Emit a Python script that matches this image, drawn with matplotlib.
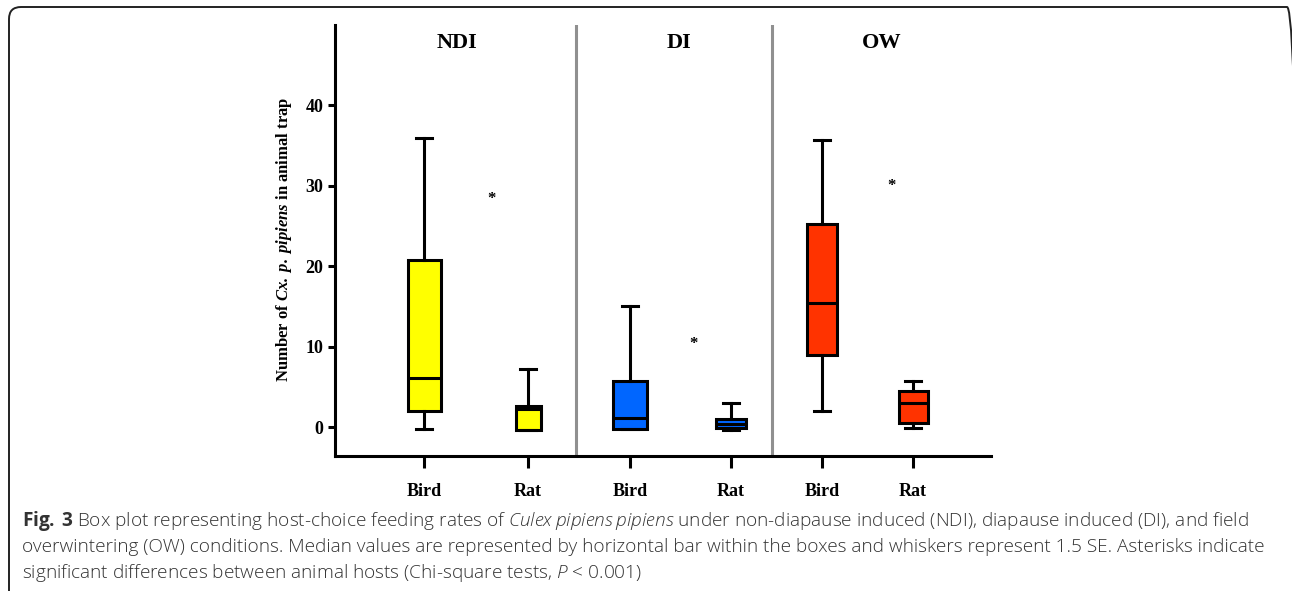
import matplotlib
matplotlib.use("Agg")
import matplotlib.pyplot as plt
from matplotlib.patches import FancyBboxPatch

# data
groups = ["NDI", "DI", "OW"]
hosts = ["Bird", "Rat", "Bird", "Rat", "Bird", "Rat"]
whis_lo = [-0.3, -0.4, -0.3, -0.4, 2.0, -0.1]
q1 = [2.0, -0.4, -0.3, -0.1, 8.9, 0.5]
med = [6.1, 2.2, 1.1, 0.4, 15.4, 3.0]
q3 = [20.8, 2.6, 5.7, 1.0, 25.2, 4.5]
whis_hi = [35.9, 7.2, 15.0, 3.0, 35.7, 5.7]
star_y = [28.4, 10.3, 30.0]

colors = ["#FFFF00", "#FFFF00", "#0066FF", "#0066FF", "#FF3300", "#FF3300"]

# layout (x in pixel-like units along the axis)
box_x = [89, 193, 295, 396, 487, 578]
box_w = [33, 25, 34, 30, 30, 29]
group_x = [122, 344, 547]
star_x = [157, 358, 557]
divider_x = [241, 437]

plt.rcParams['mathtext.fontset'] = 'custom'
plt.rcParams['mathtext.rm'] = 'Open Sans:light'
plt.rcParams['mathtext.it'] = 'Open Sans:italic:light'
plt.rcParams['mathtext.bf'] = 'Open Sans:bold'
plt.rcParams['mathtext.bfit'] = 'Liberation Serif:italic:bold'

fig = plt.figure(figsize=(12.92, 5.91), dpi=100)
ax = fig.add_axes([335/1292, 1-456/591, 656/1292, 431/591])

stats = []
for i in range(len(hosts)):
    stats.append(dict(med=med[i], q1=q1[i], q3=q3[i], whislo=whis_lo[i],
                      whishi=whis_hi[i], fliers=[], label=hosts[i]))

lw = 2.2
bp = ax.bxp(stats, positions=box_x, widths=box_w, capwidths=16,
            patch_artist=True, showfliers=False,
            boxprops=dict(linewidth=lw, edgecolor='black'),
            whiskerprops=dict(linewidth=lw, color='black'),
            capprops=dict(linewidth=lw, color='black'),
            medianprops=dict(linewidth=lw, color='black'))
for patch, c in zip(bp['boxes'], colors):
    patch.set_facecolor(c)

for d in divider_x:
    ax.axvline(d, color='#909090', linewidth=2.2, zorder=0)

for gx, g in zip(group_x, groups):
    ax.text(gx, 47.8, g, ha='center', va='center', fontsize=16,
            fontweight='bold', family='Liberation Serif')

for sx, sy in zip(star_x, star_y):
    ax.text(sx, sy, '*', ha='center', va='center', fontsize=12,
            fontweight='bold', family='Liberation Serif')

ax.set_xlim(0, 656)
ax.set_ylim(-3.6, 50)
ax.set_yticks([0, 10, 20, 30, 40])
ax.set_xticks(box_x)
ax.set_xticklabels(hosts)

for s in ['top', 'right']:
    ax.spines[s].set_visible(False)
for s in ['left', 'bottom']:
    ax.spines[s].set_linewidth(lw)

ax.tick_params(axis='y', length=5, width=lw, pad=3.5)
ax.tick_params(axis='x', length=8.5, width=lw, pad=11)
for lab in ax.get_xticklabels() + ax.get_yticklabels():
    lab.set_family('Liberation Serif')
    lab.set_fontweight('bold')
    lab.set_fontsize(13)

ax.set_ylabel(r"Number of $\mathbfit{Cx.\:p.\:pipiens}$ in animal trap",
              family='Liberation Serif', fontweight='bold', fontsize=12)
ax.yaxis.set_label_coords(-41/656, (23.3 + 3.6)/53.6)

# caption
cap = [
    r"$\mathbf{Fig.\:3}$ Box plot representing host-choice feeding rates of "
    r"$\mathit{Culex\:pipiens\:pipiens}$ under non-diapause induced (NDI), diapause induced (DI), and field",
    "overwintering (OW) conditions. Median values are represented by horizontal bar within the boxes "
    "and whiskers represent 1.5 SE. Asterisks indicate",
    r"significant differences between animal hosts (Chi-square tests, $\mathit{P}$ < 0.001)",
]
cap_y = [521, 547, 573]
for t, y in zip(cap, cap_y):
    fig.text(22/1292, 1 - y/591, t, ha='left', va='center', fontsize=13.7,
             family='Open Sans', fontweight='light', color='#333333')

# frame
frame = FancyBboxPatch((0.09, -1.0), 12.99 - 0.09, 5.84 + 1.0,
                       boxstyle="round,pad=0,rounding_size=0.12",
                       transform=fig.dpi_scale_trans, fill=False,
                       edgecolor='#222222', linewidth=1.4)
fig.patches.append(frame)

fig.savefig("out.png", dpi=100)
